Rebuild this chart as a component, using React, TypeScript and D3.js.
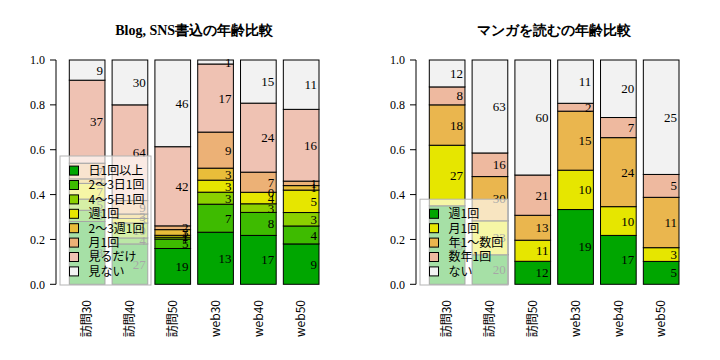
import { useEffect, useRef } from "react";
import * as d3 from "d3";

// columns
const groups = ["訪問30", "訪問40", "訪問50", "web30", "web40", "web50"];

// left chart: Blog, SNS
const blogTitle = "Blog, SNS書込の年齢比較";
const blogLevels = ["日1回以上", "2～3日1回", "4～5日1回", "週1回", "2～3週1回", "月1回", "見るだけ", "見ない"];
const blogColors = ["#00A600", "#3EBB00", "#8BD000", "#E6E600", "#E9BD3A", "#ECB176", "#EFC2B3", "#F2F2F2"];
const blogCounts = [
    [28, 27, 19, 13, 17, 9],
    [5, 4, 5, 7, 8, 4],
    [5, 10, 1, 3, 3, 3],
    [7, 3, 1, 3, 4, 5],
    [2, 3, 3, 3, 0, 1],
    [7, 9, 2, 9, 7, 1],
    [37, 64, 42, 17, 24, 16],
    [9, 30, 46, 1, 15, 11]
];

// right chart: manga
const mangaTitle = "マンガを読むの年齢比較";
const mangaLevels = ["週1回", "月1回", "年1～数回", "数年1回", "ない"];
const mangaColors = ["#00A600", "#E6E600", "#EAB64E", "#EEB99F", "#F2F2F2"];
const mangaCounts = [
    [35, 20, 12, 19, 17, 5],
    [27, 23, 11, 10, 10, 3],
    [18, 30, 13, 15, 24, 11],
    [8, 16, 21, 2, 7, 5],
    [12, 63, 60, 11, 20, 25]
];

const yTicks = [0, 0.2, 0.4, 0.6, 0.8, 1.0];

const serif = "'Liberation Serif', 'Times New Roman', serif";
const sans = "'Noto Sans CJK JP', sans-serif";

function drawPanel(svg: any, ox: number, title: string, levels: string[], colors: string[], counts: number[][], legendWidth: number) {
    const g = svg.append("g").attr("transform", `translate(${ox},0)`);
    const x = d3.scaleBand()
        .domain(groups)
        .range([69.3, 319])
        .paddingInner(1 / 6)
        .paddingOuter(0);
    const y = d3.scaleLinear().domain([0, 1]).range([284.3, 60]);

    // stack proportions per column
    const rows = groups.map((grp, j) => {
        const obj: any = { group: grp };
        const total = d3.sum(counts, (c) => c[j]);
        levels.forEach((lv, i) => { obj[lv] = counts[i][j] / total; });
        return obj;
    });
    const series = d3.stack().keys(levels)(rows);

    series.forEach((s: any, i: number) => {
        g.append("g")
            .selectAll("rect")
            .data(s)
            .enter()
            .append("rect")
                .attr("x", (d: any) => x(d.data.group))
                .attr("y", (d: any) => y(d[1]))
                .attr("width", x.bandwidth())
                .attr("height", (d: any) => y(d[0]) - y(d[1]))
                .attr("fill", colors[i])
                .attr("stroke", "#000")
                .attr("stroke-width", 1);
    });

    series.forEach((s: any, i: number) => {
        g.append("g")
            .selectAll("text")
            .data(s)
            .enter()
            .append("text")
                .attr("x", (d: any) => (x(d.data.group) as number) + x.bandwidth() - 2)
                .attr("y", (d: any) => y((d[0] + d[1]) / 2))
                .attr("dy", "0.35em")
                .attr("text-anchor", "end")
                .style("font-family", serif)
                .style("font-size", "13px")
                .text((d: any, j: number) => counts[i][j]);
    });

    // y axis
    const ax = g.append("g").attr("transform", "translate(56,0)");
    ax.append("line").attr("x1", 0).attr("x2", 0).attr("y1", y(0)).attr("y2", y(1)).attr("stroke", "#000");
    yTicks.forEach((t) => {
        ax.append("line").attr("x1", -6).attr("x2", 0).attr("y1", y(t)).attr("y2", y(t)).attr("stroke", "#000");
        ax.append("text")
            .attr("x", -11)
            .attr("y", y(t))
            .attr("dy", "0.35em")
            .attr("text-anchor", "end")
            .style("font-family", serif)
            .style("font-size", "12px")
            .text(d3.format(".1f")(t));
    });

    // x labels
    groups.forEach((grp) => {
        const cx = (x(grp) as number) + x.bandwidth() / 2;
        g.append("text")
            .attr("transform", `translate(${cx},300) rotate(-90)`)
            .attr("dy", "0.35em")
            .attr("text-anchor", "end")
            .style("font-family", sans)
            .style("font-size", "12px")
            .text(grp);
    });

    // title
    g.append("text")
        .attr("x", 69.3 + (319 - 69.3) / 2)
        .attr("y", 35)
        .attr("text-anchor", "middle")
        .style("font-family", serif)
        .style("font-weight", "bold")
        .style("font-size", "14px")
        .text(title);

    // legend, semi transparent box at bottom left
    const step = 14.4;
    const boxH = levels.length * step + 13.8;
    const boxTop = 285 - boxH;
    g.append("rect")
        .attr("x", 60)
        .attr("y", boxTop)
        .attr("width", legendWidth)
        .attr("height", boxH)
        .attr("fill", "rgba(255,255,255,0.65)")
        .attr("stroke", "#b4b4b4");
    levels.forEach((lv, i) => {
        const cy = boxTop + 14.6 + i * step;
        g.append("rect")
            .attr("x", 69.5)
            .attr("y", cy - 4.5)
            .attr("width", 9)
            .attr("height", 9)
            .attr("fill", colors[i])
            .attr("stroke", "#000");
        g.append("text")
            .attr("x", 88.5)
            .attr("y", cy)
            .attr("dy", "0.36em")
            .style("font-family", sans)
            .style("font-size", "12px")
            .text(lv);
    });
}

const App = () => {
    const ref = useRef<SVGSVGElement>(null);
    useEffect(() => {
        const svg = d3.select(ref.current);
        svg.selectAll("*").remove();
        svg.append("rect").attr("width", 720).attr("height", 360).attr("fill", "#fff");
        drawPanel(svg, 0, blogTitle, blogLevels, blogColors, blogCounts, 91);
        drawPanel(svg, 360, mangaTitle, mangaLevels, mangaColors, mangaCounts, 88);
    }, []);
    return (
        <svg
            ref={ref}
            width={720}
            height={360}
            style={{ position: "absolute", left: 0, top: 0 }}
        />
    );
};

export default App;
